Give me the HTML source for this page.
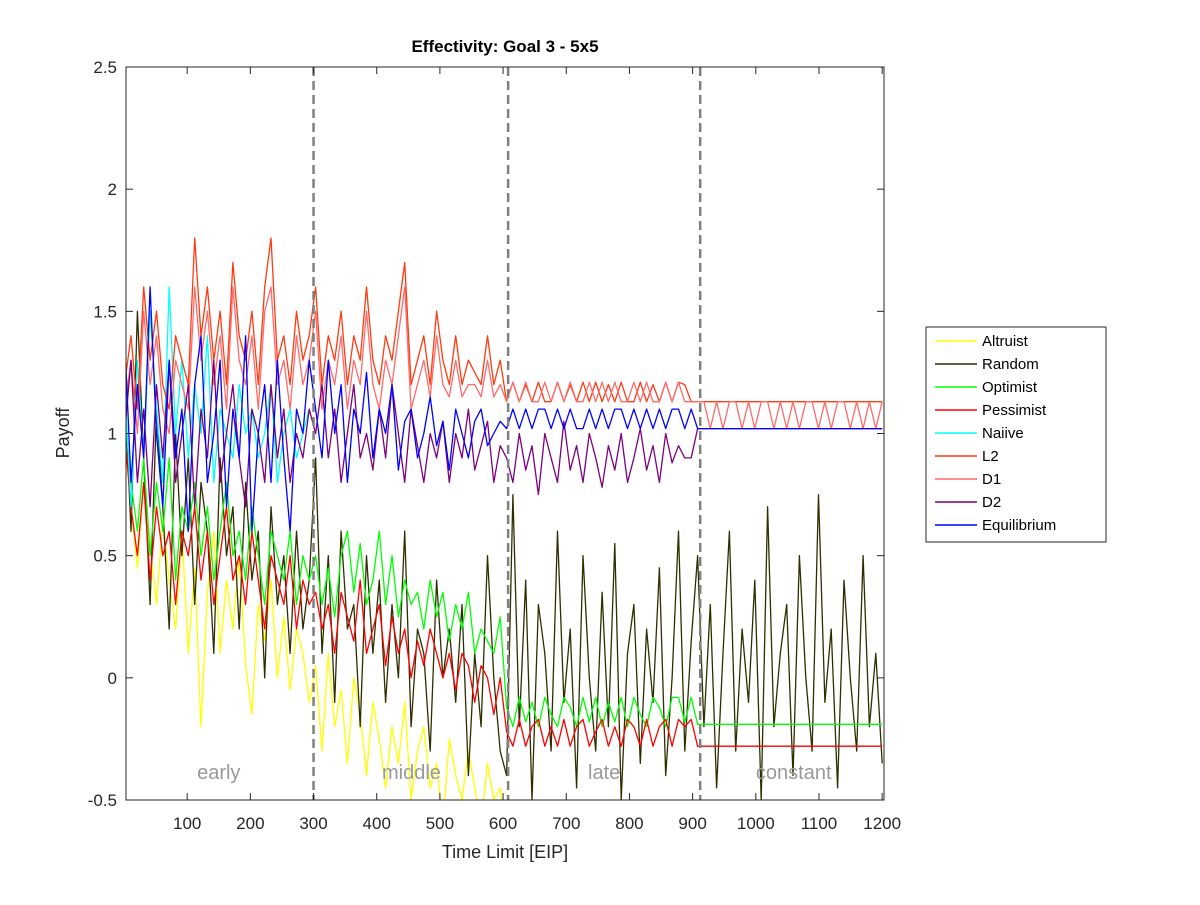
<!DOCTYPE html>
<html><head><meta charset="utf-8"><style>
body{margin:0;background:#fff;}
svg{font-family:"Liberation Sans",Arial,sans-serif;}
</style></head><body>
<svg id="chart" width="1200" height="900" viewBox="0 0 1200 900">
<rect width="1200" height="900" fill="#fff"/>
<defs><clipPath id="pa"><rect x="126" y="67" width="758" height="733"/></clipPath></defs>
<text x="505" y="52" text-anchor="middle" font-size="17" font-weight="bold">Effectivity: Goal 3 - 5x5</text>
<text x="505" y="858" text-anchor="middle" font-size="18" fill="#262626">Time Limit [EIP]</text>
<text transform="translate(69,433) rotate(-90)" text-anchor="middle" font-size="18" fill="#262626">Payoff</text>
<g id="series" clip-path="url(#pa)"></g>
<g id="axes"></g>
<g id="legend"></g>
</svg>
<script>
const categoriesStep = 1199/119;
const seriesNames = ["Altruist","Random","Optimist","Pessimist","Naiive","L2","D1","D2","Equilibrium"];
const seriesColors = ["#ffff00","#2e2e00","#00ff00","#ff0000","#00ffff","#ff3a10","#ff6a6a","#7d007d","#0000ff"];
const altruist = [1.0,0.7,0.45,0.8,0.55,0.3,0.65,0.4,0.2,0.6,0.1,0.45,-0.2,0.35,0.6,0.1,0.4,0.2,0.5,0.05,-0.15,0.3,0.15,0.4,0.0,0.25,-0.05,0.2,0.1,-0.1,
0.05,-0.3,0.1,-0.2,-0.05,-0.35,0.0,-0.15,-0.4,-0.1,-0.25,-0.45,-0.2,-0.35,-0.1,-0.5,-0.3,-0.2,-0.45,-0.35,-0.6,-0.25,-0.4,-0.5,-0.3,-0.45,-0.6,-0.35,-0.5,-0.45,-0.7];
const random = [1.2,0.6,1.5,0.9,0.3,1.1,0.7,0.2,1.0,0.5,0.9,0.3,0.8,0.6,0.1,0.9,0.5,0.7,0.2,0.8,0.4,0.6,0.0,0.7,0.3,0.5,0.1,0.6,0.2,0.4,
0.9,0.1,0.5,-0.1,0.6,0.2,0.3,-0.2,0.5,0.1,0.4,-0.1,0.3,0.0,0.6,-0.2,0.2,0.1,-0.3,0.4,0.0,0.2,-0.1,0.3,-0.4,0.1,-0.2,0.5,0.0,-0.3,
-0.4,0.75,-0.2,0.4,-0.5,0.3,0.1,-0.3,0.6,-0.1,0.2,-0.45,0.5,0.0,-0.3,0.35,-0.2,0.55,-0.5,0.1,0.3,-0.35,0.2,-0.1,0.45,-0.4,0.0,0.6,-0.3,0.15,
0.5,-0.2,0.3,-0.45,0.1,0.6,-0.3,0.2,-0.1,0.4,-0.5,0.7,-0.2,0.1,0.3,-0.4,0.5,0.0,-0.3,0.75,-0.1,0.2,-0.45,0.4,0.0,-0.3,0.5,-0.2,0.1,-0.35];
const optimist = [1.1,0.8,0.6,0.9,0.5,0.8,0.6,0.9,0.4,0.7,0.6,0.8,0.5,0.7,0.4,0.6,0.8,0.5,0.6,0.4,0.7,0.5,0.3,0.6,0.5,0.4,0.6,0.3,0.5,0.4,
0.5,0.3,0.45,0.25,0.5,0.6,0.35,0.55,0.3,0.4,0.6,0.3,0.5,0.25,0.4,0.3,0.35,0.2,0.4,0.25,0.35,0.15,0.3,0.2,0.35,0.1,0.2,0.15,0.1,0.25,
-0.12,-0.2,-0.08,-0.18,-0.1,-0.2,-0.08,-0.15,-0.2,-0.08,-0.12,-0.2,-0.08,-0.18,-0.08,-0.2,-0.1,-0.18,-0.08,-0.2,-0.08,-0.15,-0.2,-0.08,-0.12,-0.2,-0.08,-0.08,-0.18,-0.08,
-0.19,-0.19,-0.19,-0.19,-0.19,-0.19,-0.19,-0.19,-0.19,-0.19,-0.19,-0.19,-0.19,-0.19,-0.19,-0.19,-0.19,-0.19,-0.19,-0.19,-0.19,-0.19,-0.19,-0.19,-0.19,-0.19,-0.19,-0.19,-0.19,-0.19];
const pessimist = [1.0,0.7,0.5,0.8,0.4,0.7,0.5,0.6,0.3,0.6,0.5,0.7,0.4,0.6,0.3,0.5,0.7,0.4,0.5,0.3,0.6,0.4,0.2,0.5,0.4,0.3,0.5,0.2,0.4,0.3,
0.35,0.2,0.3,0.1,0.35,0.25,0.15,0.4,0.1,0.2,0.3,0.05,0.25,0.1,0.2,0.0,0.15,0.05,0.2,0.1,0.0,0.1,-0.05,0.1,0.05,-0.1,0.05,0.0,-0.15,0.0,
-0.22,-0.28,-0.17,-0.28,-0.2,-0.17,-0.28,-0.2,-0.28,-0.17,-0.28,-0.2,-0.17,-0.28,-0.22,-0.17,-0.28,-0.2,-0.28,-0.17,-0.2,-0.28,-0.17,-0.28,-0.2,-0.17,-0.28,-0.17,-0.2,-0.17,
-0.28,-0.28,-0.28,-0.28,-0.28,-0.28,-0.28,-0.28,-0.28,-0.28,-0.28,-0.28,-0.28,-0.28,-0.28,-0.28,-0.28,-0.28,-0.28,-0.28,-0.28,-0.28,-0.28,-0.28,-0.28,-0.28,-0.28,-0.28,-0.28,-0.28];
const naiive = [1.2,0.7,1.3,0.9,1.5,1.1,0.8,1.6,1.0,1.3,0.9,1.2,1.0,1.4,0.8,1.1,1.0,0.9,1.2,1.0,1.1,0.9,1.0,1.2,0.8,1.0,1.1,0.9,1.0,1.1];
const l2 = [1.2,1.4,1.1,1.6,1.3,1.5,1.2,1.1,1.4,1.3,1.2,1.8,1.4,1.6,1.3,1.5,1.2,1.7,1.4,1.3,1.5,1.2,1.6,1.8,1.3,1.4,1.2,1.5,1.3,1.4,
1.6,1.2,1.4,1.3,1.5,1.2,1.4,1.3,1.6,1.3,1.2,1.4,1.3,1.5,1.7,1.2,1.3,1.4,1.2,1.5,1.3,1.2,1.4,1.2,1.3,1.25,1.2,1.4,1.2,1.3,
1.13,1.21,1.13,1.2,1.13,1.21,1.13,1.13,1.21,1.13,1.2,1.13,1.21,1.13,1.21,1.13,1.2,1.13,1.21,1.13,1.13,1.21,1.13,1.2,1.13,1.21,1.13,1.21,1.2,1.13,
1.13,1.13,1.13,1.13,1.13,1.13,1.13,1.13,1.13,1.13,1.13,1.13,1.13,1.13,1.13,1.13,1.13,1.13,1.13,1.13,1.13,1.13,1.13,1.13,1.13,1.13,1.13,1.13,1.13,1.13];
const d1 = [1.1,1.3,1.0,1.5,1.2,1.4,1.1,1.0,1.3,1.2,1.1,1.6,1.3,1.5,1.2,1.4,1.1,1.6,1.3,1.2,1.4,1.1,1.5,1.6,1.2,1.3,1.1,1.4,1.2,1.3,
1.5,1.1,1.3,1.2,1.4,1.1,1.3,1.2,1.5,1.2,1.1,1.3,1.2,1.4,1.6,1.1,1.2,1.3,1.15,1.4,1.2,1.15,1.3,1.15,1.2,1.2,1.15,1.3,1.15,1.2,
1.13,1.21,1.13,1.21,1.13,1.13,1.21,1.13,1.21,1.13,1.21,1.13,1.13,1.21,1.13,1.21,1.13,1.21,1.13,1.13,1.21,1.13,1.21,1.13,1.13,1.21,1.13,1.21,1.13,1.13,
1.13,1.13,1.02,1.13,1.02,1.13,1.13,1.02,1.13,1.02,1.13,1.13,1.02,1.13,1.02,1.13,1.02,1.13,1.13,1.02,1.13,1.02,1.13,1.13,1.02,1.13,1.02,1.13,1.02,1.13];
const d2 = [1.0,1.3,0.8,1.1,0.7,1.2,0.9,1.3,0.8,1.0,1.2,0.7,1.1,0.9,1.3,0.8,1.0,1.2,0.9,0.7,1.1,1.0,0.8,1.2,0.9,1.1,0.8,1.0,0.9,1.1,
1.0,1.2,0.9,1.1,0.8,1.0,1.2,0.9,1.0,0.85,1.1,0.9,1.2,1.0,0.8,1.1,0.95,0.8,1.0,0.9,1.05,0.8,1.0,0.9,1.1,0.85,0.95,1.05,0.8,0.95,
0.9,0.8,1.0,0.85,0.95,0.75,1.0,0.9,0.8,1.05,0.85,0.95,0.8,1.0,0.9,0.78,0.95,0.85,1.0,0.8,0.9,1.02,0.85,0.95,0.8,1.0,0.88,0.95,0.9,0.9,
1.02,1.02,1.02,1.02,1.02,1.02,1.02,1.02,1.02,1.02,1.02,1.02,1.02,1.02,1.02,1.02,1.02,1.02,1.02,1.02,1.02,1.02,1.02,1.02,1.02,1.02,1.02,1.02,1.02,1.02];
const equilibrium = [1.4,0.8,1.2,0.9,1.6,1.0,0.7,1.3,0.9,1.1,0.6,1.2,1.4,0.8,1.0,1.3,0.7,1.1,0.9,1.4,0.6,1.0,1.2,0.8,1.3,0.9,0.6,1.1,1.0,1.3,
1.1,0.9,1.3,1.0,1.2,0.8,1.1,1.0,1.25,0.9,1.1,1.0,1.2,0.85,1.05,1.1,0.9,1.0,1.15,0.95,1.05,0.85,1.1,1.0,0.9,1.05,1.1,0.95,1.0,1.05,
1.02,1.1,1.02,1.1,1.02,1.1,1.1,1.02,1.1,1.02,1.1,1.02,1.02,1.1,1.02,1.1,1.02,1.1,1.1,1.02,1.1,1.02,1.1,1.02,1.1,1.02,1.1,1.1,1.02,1.1,
1.02,1.02,1.02,1.02,1.02,1.02,1.02,1.02,1.02,1.02,1.02,1.02,1.02,1.02,1.02,1.02,1.02,1.02,1.02,1.02,1.02,1.02,1.02,1.02,1.02,1.02,1.02,1.02,1.02,1.02];
const seriesData = [altruist,random,optimist,pessimist,naiive,l2,d1,d2,equilibrium];
const xTicks = [100,200,300,400,500,600,700,800,900,1000,1100,1200];
const yTicks = [-0.5,0,0.5,1,1.5,2,2.5];
const phaseBounds = [300,608,912];
const phaseLabels = ["early","middle","late","constant"];
const phaseCenters = [150,455,760,1060];

const NS="http://www.w3.org/2000/svg";
const L=126,R=884,T=67,B=800;
function xs(v){return 124+v*0.6318;}
function ys(v){return B-(v+0.5)/3*(B-T);}
function mk(tag,attrs,parent){const e=document.createElementNS(NS,tag);for(const k in attrs)e.setAttribute(k,attrs[k]);parent.appendChild(e);return e;}

const sg=document.getElementById('series');
seriesData.forEach((arr,si)=>{
  let d="";
  arr.forEach((v,i)=>{const t=1+i*categoriesStep;d+=(i?"L":"M")+xs(t).toFixed(1)+","+ys(v).toFixed(1);});
  const p=mk('path',{d:d,fill:'none',stroke:seriesColors[si],'stroke-width':1.3,'stroke-linejoin':'round'},sg);
  
  
});

const ag=document.getElementById('axes');
phaseBounds.forEach((b,i)=>{
  const l=mk('line',{x1:xs(b),x2:xs(b),y1:T,y2:B,stroke:'#808080','stroke-width':2.5,'stroke-dasharray':'9,5'},ag);
  
  
});
phaseLabels.forEach((s,i)=>{
  const t=mk('text',{x:xs(phaseCenters[i]),y:779,'text-anchor':'middle','font-size':20,fill:'#999'},ag);
  t.textContent=s;
  
  
});
const box=mk('rect',{x:L,y:T,width:R-L,height:B-T,fill:'none',stroke:'#262626','stroke-width':1},ag);


xTicks.forEach(v=>{
  const x=xs(v);
  mk('line',{x1:x,x2:x,y1:B,y2:B-7,stroke:'#262626'},ag);
  mk('line',{x1:x,x2:x,y1:T,y2:T+7,stroke:'#262626'},ag);
  const t=mk('text',{x:x,y:B+29,'text-anchor':'middle','font-size':17,fill:'#262626'},ag);
  t.textContent=v;
  
  
});
yTicks.forEach(v=>{
  const y=ys(v);
  mk('line',{x1:L,x2:L+7,y1:y,y2:y,stroke:'#262626'},ag);
  mk('line',{x1:R,x2:R-7,y1:y,y2:y,stroke:'#262626'},ag);
  const t=mk('text',{x:117,y:y+6,'text-anchor':'end','font-size':17,fill:'#262626'},ag);
  t.textContent=v;
  
  
});

const lg=document.getElementById('legend');
const lb=mk('rect',{x:926,y:327,width:180,height:215,fill:'#fff',stroke:'#262626'},lg);


seriesNames.forEach((n,i)=>{
  const y=341+i*23;
  mk('line',{x1:935,x2:977,y1:y,y2:y,stroke:seriesColors[i],'stroke-width':1.5},lg);
  const t=mk('text',{x:982,y:y+5,'font-size':15,fill:'#000'},lg);
  t.textContent=n;
  
  
});
</script>
</body></html>
